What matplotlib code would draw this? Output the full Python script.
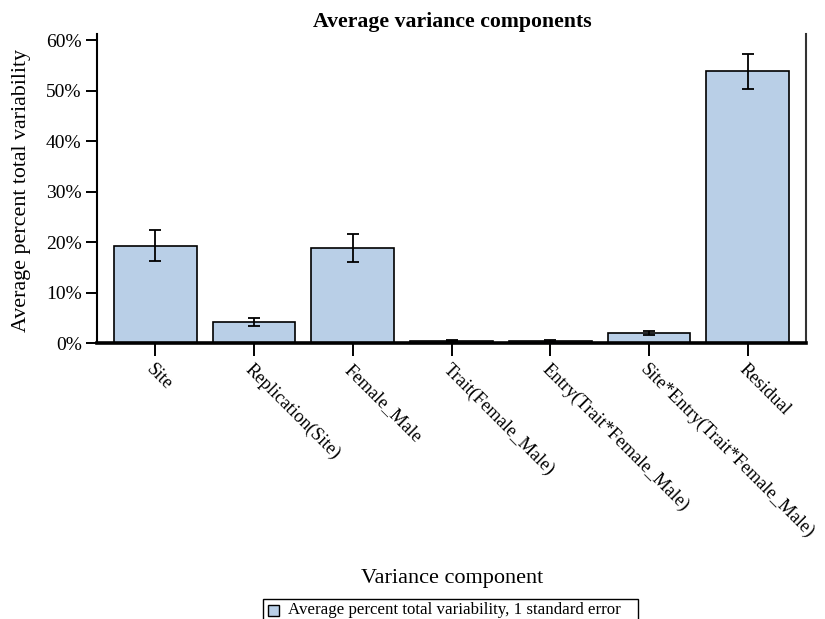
import matplotlib
matplotlib.use("Agg")
import matplotlib.pyplot as plt
from matplotlib.patches import Rectangle
from matplotlib.ticker import FuncFormatter
import numpy as np

# Variance components (percent of total variability) with 1 SE
components = ["Site", "Replication(Site)", "Female_Male", "Trait(Female_Male)",
              "Entry(Trait*Female_Male)", "Site*Entry(Trait*Female_Male)", "Residual"]
avg_percent = [19.3, 4.2, 18.8, 0.45, 0.45, 2.0, 53.8]
std_error = [3.0, 0.8, 2.8, 0.15, 0.2, 0.4, 3.5]
y_ticks = [0, 10, 20, 30, 40, 50, 60]
legend_label = "Average percent total variability, 1 standard error"

plt.rcParams["font.family"] = ["Liberation Serif", "DejaVu Serif"]

W, H = 825, 619
fig = plt.figure(figsize=(W / 100, H / 100), dpi=100)
ax = fig.add_axes([97 / W, (H - 343) / H, (806 - 97) / W, (343 - 34) / H])

x = np.arange(len(components))
bar_color = "#B9CFE7"
ax.bar(x, avg_percent, width=0.84, color=bar_color, edgecolor="black",
       linewidth=1.2, zorder=2)
ax.errorbar(x, avg_percent, yerr=std_error, fmt="none", ecolor="black",
            elinewidth=1.3, capsize=4.5, capthick=1.3, zorder=3)

ax.set_xlim(-0.59, len(components) - 1 + 0.59)
ax.set_ylim(0, 61.2)
ax.set_yticks(y_ticks)
ax.yaxis.set_major_formatter(FuncFormatter(lambda v, p: f"{v:.0f}%"))
ax.set_xticks(x)
ax.set_xticklabels(components, rotation=-45, ha="left", va="top",
                   rotation_mode="anchor")

for s in ["left", "right"]:
    ax.spines[s].set_linewidth(1.5)
ax.spines["right"].set_color("#333333")
ax.spines["bottom"].set_linewidth(2.6)
ax.spines["top"].set_visible(False)

ax.tick_params(axis="y", direction="out", length=8, width=1.4, labelsize=14, pad=3)
ax.tick_params(axis="x", direction="out", length=9, width=1.4, labelsize=13.3, pad=4)

fig.text(452 / W, 1 - 22 / H, "Average variance components", ha="center",
         va="center", fontsize=15.7, fontweight="bold")
fig.text(22 / W, 1 - 191 / H, "Average percent total variability", ha="center",
         va="center", rotation=90, fontsize=15.8)
fig.text(452 / W, 1 - 578 / H, "Variance component", ha="center", va="center",
         fontsize=16)

# Legend box along the bottom edge
px = lambda v: v / W
py = lambda v: 1 - v / H
fig.patches.append(Rectangle((px(263), py(630)), (638 - 263) / W, (630 - 599) / H,
                             transform=fig.transFigure, facecolor="white",
                             edgecolor="black", linewidth=1.0))
fig.patches.append(Rectangle((px(268), py(616)), 11 / W, 11 / H,
                             transform=fig.transFigure, facecolor=bar_color,
                             edgecolor="black", linewidth=1.0))
fig.text(px(288), py(610), legend_label, ha="left", va="center", fontsize=12.2)

fig.savefig("out.png", dpi=100)
